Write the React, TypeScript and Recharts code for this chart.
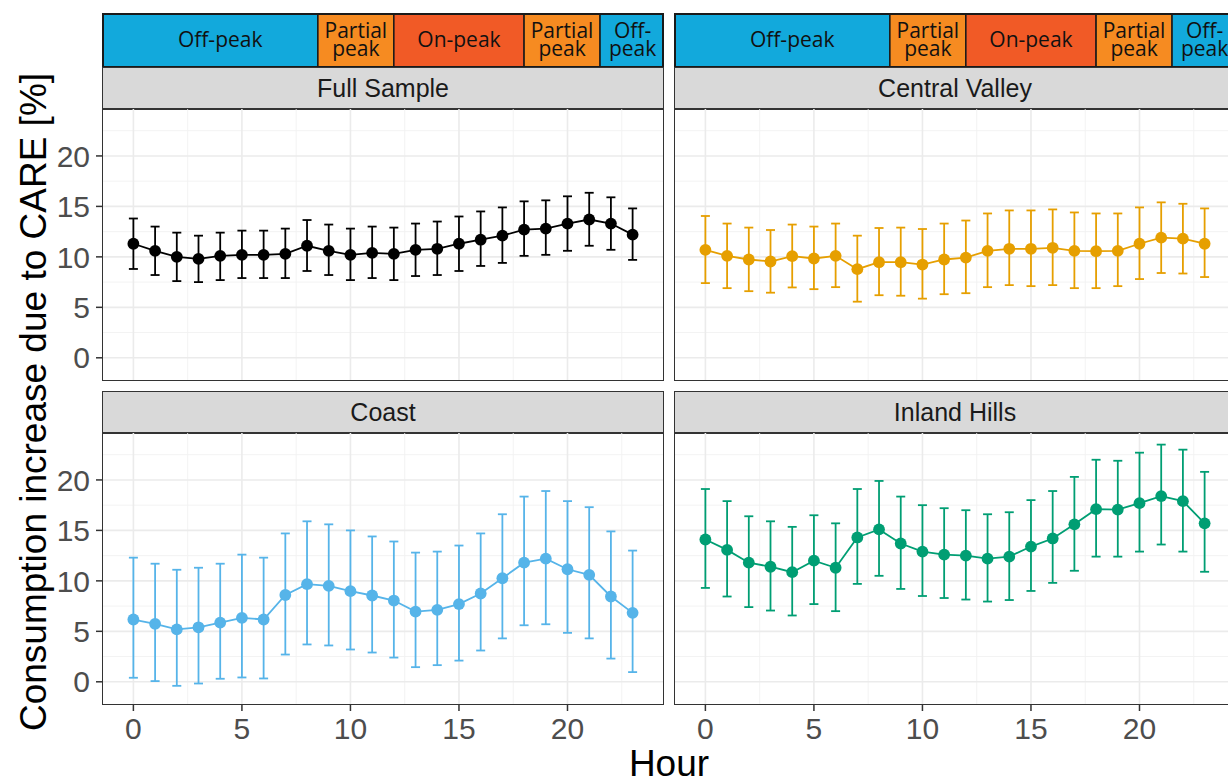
import React from "react";
import { ComposedChart, Line, ErrorBar, XAxis, YAxis, CartesianGrid, ReferenceArea } from "recharts";

const hours = [0, 1, 2, 3, 4, 5, 6, 7, 8, 9, 10, 11, 12, 13, 14, 15, 16, 17, 18, 19, 20, 21, 22, 23];

const fullEst = [11.3, 10.6, 10.0, 9.8, 10.1, 10.2, 10.2, 10.3, 11.1, 10.6, 10.2, 10.4, 10.3, 10.7, 10.8, 11.3, 11.7, 12.1, 12.7, 12.8, 13.3, 13.7, 13.3, 12.2];
const fullLo = [8.8, 8.2, 7.6, 7.5, 7.7, 7.9, 7.9, 7.9, 8.6, 8.2, 7.7, 7.9, 7.7, 8.1, 8.2, 8.6, 9.1, 9.4, 10.1, 10.2, 10.6, 11.1, 10.7, 9.7];
const fullHi = [13.8, 13.0, 12.4, 12.1, 12.4, 12.6, 12.6, 12.8, 13.65, 13.2, 12.8, 13.0, 12.9, 13.3, 13.5, 14.0, 14.5, 14.9, 15.5, 15.6, 16.0, 16.35, 15.9, 14.8];

const valleyEst = [10.7, 10.1, 9.74, 9.54, 10.07, 9.84, 10.1, 8.78, 9.47, 9.47, 9.24, 9.74, 9.93, 10.6, 10.8, 10.8, 10.9, 10.6, 10.56, 10.6, 11.3, 11.9, 11.8, 11.3];
const valleyLo = [7.4, 6.9, 6.6, 6.45, 6.97, 6.8, 7.0, 5.56, 6.2, 6.15, 5.86, 6.3, 6.4, 7.0, 7.2, 7.1, 7.2, 6.9, 6.9, 7.1, 7.8, 8.4, 8.35, 8.0];
const valleyHi = [14.05, 13.3, 12.9, 12.66, 13.2, 13.0, 13.3, 12.1, 12.86, 12.9, 12.76, 13.3, 13.6, 14.3, 14.6, 14.6, 14.7, 14.4, 14.3, 14.3, 14.9, 15.4, 15.26, 14.8];

const coastEst = [6.17, 5.74, 5.2, 5.4, 5.87, 6.34, 6.17, 8.6, 9.67, 9.5, 8.98, 8.55, 8.05, 6.96, 7.13, 7.7, 8.75, 10.26, 11.8, 12.2, 11.15, 10.6, 8.45, 6.83];
const coastLo = [0.4, 0.07, -0.4, -0.17, 0.3, 0.43, 0.33, 2.7, 3.7, 3.6, 3.2, 2.9, 2.4, 1.45, 1.65, 2.1, 3.1, 4.3, 5.6, 5.7, 4.85, 4.3, 2.3, 0.96];
const coastHi = [12.3, 11.7, 11.1, 11.3, 11.7, 12.6, 12.3, 14.7, 15.9, 15.6, 15.0, 14.4, 13.9, 12.8, 12.9, 13.5, 14.7, 16.6, 18.35, 18.9, 17.9, 17.3, 14.9, 13.0];

const hillsEst = [14.1, 13.07, 11.8, 11.4, 10.86, 12.0, 11.3, 14.3, 15.1, 13.7, 12.9, 12.6, 12.5, 12.2, 12.4, 13.4, 14.2, 15.6, 17.1, 17.06, 17.7, 18.4, 17.9, 15.7];
const hillsLo = [9.3, 8.45, 7.4, 7.06, 6.57, 7.7, 7.0, 9.7, 10.5, 9.2, 8.5, 8.3, 8.15, 7.95, 8.1, 9.0, 9.8, 11.0, 12.4, 12.4, 12.9, 13.6, 12.9, 10.9];
const hillsHi = [19.1, 17.9, 16.4, 15.9, 15.35, 16.5, 15.7, 19.1, 19.9, 18.35, 17.5, 17.2, 17.0, 16.6, 16.8, 18.0, 18.9, 20.3, 22.0, 21.9, 22.7, 23.5, 23.0, 20.8];

const xTicks = [0, 5, 10, 15, 20];
const xMinor = [2.5, 7.5, 12.5, 17.5, 22.5];
const yTicks = [0, 5, 10, 15, 20];
const yMinor = [2.5, 7.5, 12.5, 17.5, 22.5];

const X_DOMAIN: [number, number] = [-1.4, 24.4];
const Y_DOMAIN: [number, number] = [-2.2, 24.65];

// tariff periods in hours; the outer rectangles run on to the panel edge
const periodStart = [-0.5, 8.5, 12, 18, 21.5];
const periodEnd = [8.5, 12, 18, 21.5, 24.5];
const periodLabels = [["Off-peak"], ["Partial", "peak"], ["On-peak"], ["Partial", "peak"], ["Off-", "peak"]];
const periodColors = ["#12A9DC", "#F68B21", "#F15A26", "#F68B21", "#12A9DC"];

const PANEL_W = 560;
const PANEL_H = 271;
const COL_X = [103, 675];
const ROW_Y = [109, 433];
const STRIP_H = 42;

const FONT = "'Liberation Sans', Arial, Helvetica, sans-serif";

const buildRows = (est: number[], lo: number[], hi: number[]) =>
  hours.map((h, i) => ({ hour: h, est: est[i], err: [est[i] - lo[i], hi[i] - est[i]] }));

const panels = [
  { title: "Full Sample", color: "#000000", rows: buildRows(fullEst, fullLo, fullHi), col: 0, row: 0 },
  { title: "Central Valley", color: "#E69F00", rows: buildRows(valleyEst, valleyLo, valleyHi), col: 1, row: 0 },
  { title: "Coast", color: "#56B4E9", rows: buildRows(coastEst, coastLo, coastHi), col: 0, row: 1 },
  { title: "Inland Hills", color: "#009E73", rows: buildRows(hillsEst, hillsLo, hillsHi), col: 1, row: 1 },
];

function PeakLabel(props: any) {
  const { viewBox, lines } = props;
  if (!viewBox) return null;
  const cx = viewBox.x + viewBox.width / 2;
  const cy = viewBox.y + viewBox.height / 2;
  const lh = 18.6;
  return (
    <text textAnchor="middle" fontFamily="'Open Sans', sans-serif" fontSize={21} fill="#111">
      {lines.map((l: string, i: number) => (
        <tspan key={i} x={cx} y={cy + 6.5 + (i - (lines.length - 1) / 2) * lh}>
          {l}
        </tspan>
      ))}
    </text>
  );
}

function PeakStrip({ left }: { left: number }) {
  const last = periodLabels.length - 1;
  return (
    <>
      <div style={{ position: "absolute", left, top: 14 }}>
        <ComposedChart width={PANEL_W} height={53} data={fullEst.map((v, i) => ({ hour: hours[i], v }))} margin={{ top: 0, right: 0, bottom: 0, left: 0 }}>
          <XAxis dataKey="hour" type="number" domain={X_DOMAIN} hide allowDataOverflow />
          <YAxis type="number" domain={[0, 1]} hide allowDataOverflow />
          {/* invisible series so the axes get scales */}
          <Line dataKey="v" stroke="none" dot={false} activeDot={false} isAnimationActive={false} />
          {periodLabels.map((_, i) => (
            <ReferenceArea
              key={`fill-${i}`}
              x1={i === 0 ? X_DOMAIN[0] : periodStart[i]}
              x2={i === last ? X_DOMAIN[1] : periodEnd[i]}
              y1={0}
              y2={1}
              fill={periodColors[i]}
              fillOpacity={1}
              stroke="#1A1A1A"
              strokeWidth={1.5}
              ifOverflow="visible"
            />
          ))}
          {periodLabels.map((lines, i) => (
            <ReferenceArea
              key={`lab-${i}`}
              x1={periodStart[i]}
              x2={periodEnd[i]}
              y1={0}
              y2={1}
              fill="none"
              stroke="none"
              ifOverflow="visible"
              label={<PeakLabel lines={lines} />}
            />
          ))}
        </ComposedChart>
      </div>
      <div style={{ position: "absolute", left: left - 1, top: 13, width: PANEL_W + 2, height: 55, border: "2px solid #1A1A1A", boxSizing: "border-box" }} />
    </>
  );
}

function Panel({ p }: { p: (typeof panels)[number] }) {
  const isLeft = p.col === 0;
  const isBottom = p.row === 1;
  const axisW = isLeft ? COL_X[0] : 0;
  const left = COL_X[p.col] - axisW;
  const top = ROW_Y[p.row];
  const xAxisH = isBottom ? 60 : 0;
  const tickStyle = { fill: "#4D4D4D", fontSize: 30, fontFamily: FONT };
  return (
    <>
      <div
        style={{
          position: "absolute",
          left: COL_X[p.col] - 1,
          top: top - STRIP_H,
          width: PANEL_W + 2,
          height: STRIP_H + 1,
          background: "#D9D9D9",
          border: "1.5px solid #333333",
          boxSizing: "border-box",
          textAlign: "center",
          lineHeight: `${STRIP_H - 2}px`,
          fontSize: 25,
          fontFamily: FONT,
          color: "#1A1A1A",
        }}
      >
        {p.title}
      </div>
      <div style={{ position: "absolute", left, top }}>
        <ComposedChart width={axisW + PANEL_W} height={PANEL_H + xAxisH} data={p.rows} margin={{ top: 0, right: 0, bottom: 0, left: 0 }}>
          <CartesianGrid verticalValues={xMinor} horizontalValues={yMinor} stroke="#F2F2F2" strokeWidth={0.9} />
          <CartesianGrid verticalValues={xTicks} horizontalValues={yTicks} stroke="#EBEBEB" strokeWidth={1.6} />
          <XAxis
            dataKey="hour"
            type="number"
            domain={X_DOMAIN}
            ticks={xTicks}
            allowDataOverflow
            hide={!isBottom}
            height={xAxisH}
            tick={tickStyle}
            tickSize={7}
            tickMargin={7}
            tickLine={{ stroke: "#333333", strokeWidth: 1.5 }}
            axisLine={false}
          />
          <YAxis
            type="number"
            domain={Y_DOMAIN}
            ticks={yTicks}
            allowDataOverflow
            hide={!isLeft}
            width={axisW}
            tick={tickStyle}
            tickSize={7}
            tickMargin={6}
            tickLine={{ stroke: "#333333", strokeWidth: 1.5 }}
            axisLine={false}
          />
          <Line
            dataKey="est"
            stroke={p.color}
            strokeWidth={1.8}
            dot={{ r: 5.9, fill: p.color, stroke: p.color, strokeWidth: 0 }}
            activeDot={false}
            isAnimationActive={false}
          >
            <ErrorBar dataKey="err" direction="y" width={4.5} stroke={p.color} strokeWidth={1.8} />
          </Line>
        </ComposedChart>
      </div>
      <div
        style={{
          position: "absolute",
          left: COL_X[p.col] - 1,
          top: top - 1,
          width: PANEL_W + 2,
          height: PANEL_H + 2,
          border: "1.5px solid #333333",
          boxSizing: "border-box",
          pointerEvents: "none",
        }}
      />
    </>
  );
}

export default function App() {
  return (
    <div style={{ position: "absolute", left: 0, top: 0, width: 1228, height: 777, overflow: "hidden", background: "#FFFFFF" }}>
      {COL_X.map((x) => (
        <PeakStrip key={x} left={x} />
      ))}
      {panels.map((p) => (
        <Panel key={p.title} p={p} />
      ))}
      <svg width={1228} height={777} style={{ position: "absolute", left: 0, top: 0, pointerEvents: "none" }}>
        <text
          transform="translate(46,402) rotate(-90)"
          textAnchor="middle"
          fontFamily={FONT}
          fontSize={37}
          fill="#000000"
        >
          Consumption increase due to CARE [%]
        </text>
        <text x={669} y={776} textAnchor="middle" fontFamily={FONT} fontSize={37} fill="#000000">
          Hour
        </text>
      </svg>
    </div>
  );
}
